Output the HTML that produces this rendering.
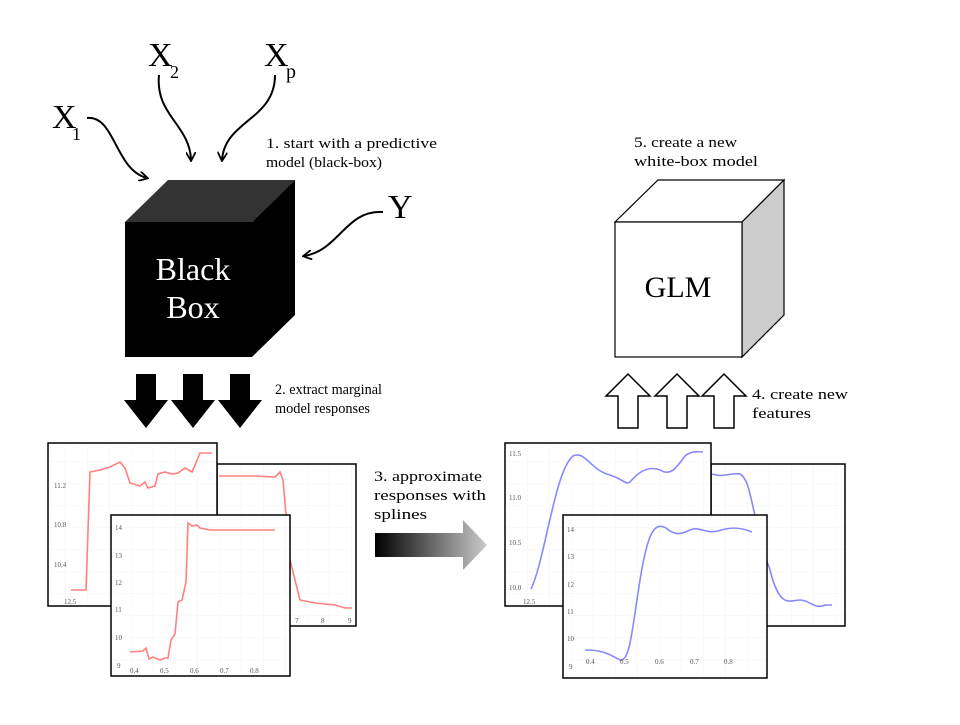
<!DOCTYPE html>
<html><head><meta charset="utf-8"><style>
body{margin:0;background:#fff;width:960px;height:720px;overflow:hidden}
text{font-family:"Liberation Serif",serif}
</style></head><body>
<svg width="960" height="720" viewBox="0 0 960 720" xmlns="http://www.w3.org/2000/svg">
<defs>
<marker id="ah" markerWidth="10" markerHeight="10" refX="8" refY="5" orient="auto" markerUnits="userSpaceOnUse">
<path d="M0,0 L9,5 L0,10" fill="none" stroke="#000" stroke-width="1.8"/></marker>
<linearGradient id="g" x1="0" x2="1"><stop offset="0" stop-color="#000"/><stop offset="1" stop-color="#ccc"/></linearGradient>
<pattern id="grid" width="22" height="22" patternUnits="userSpaceOnUse"><path d="M22 0V22M0 22H22" stroke="#f3f3f3" stroke-width="1" fill="none"/></pattern>
</defs>
<!-- inputs -->
<text x="52" y="128" font-size="34">X</text><text x="72" y="140" font-size="18">1</text>
<text x="148" y="66" font-size="34">X</text><text x="170" y="78" font-size="18">2</text>
<text x="264" y="66" font-size="34">X</text><text x="286" y="78" font-size="20">p</text>
<text x="388" y="218" font-size="34">Y</text>
<g fill="none" stroke="#000" stroke-width="2" marker-end="url(#ah)">
<path d="M87,118 C115,115 115,170 147,178"/>
<path d="M159,75 C155,115 190,125 191,160"/>
<path d="M275,75 C275,120 225,120 222,160"/>
<path d="M383,212 C345,210 340,250 304,256"/>
</g>
<g font-size="15">
<text x="266" y="148" textLength="171" lengthAdjust="spacingAndGlyphs">1. start with a predictive</text>
<text x="266" y="167" textLength="116" lengthAdjust="spacingAndGlyphs">model (black-box)</text>
<text x="275" y="394" textLength="107" lengthAdjust="spacingAndGlyphs">2. extract marginal</text>
<text x="275" y="413" textLength="95" lengthAdjust="spacingAndGlyphs">model responses</text>
<text x="374" y="481" textLength="108" lengthAdjust="spacingAndGlyphs">3. approximate</text>
<text x="374" y="500" textLength="112" lengthAdjust="spacingAndGlyphs">responses with</text>
<text x="374" y="519" textLength="53" lengthAdjust="spacingAndGlyphs">splines</text>
<text x="752" y="399" textLength="96" lengthAdjust="spacingAndGlyphs">4. create new</text>
<text x="752" y="418" textLength="59" lengthAdjust="spacingAndGlyphs">features</text>
<text x="634" y="147" textLength="103" lengthAdjust="spacingAndGlyphs">5. create a new</text>
<text x="634" y="166" textLength="124" lengthAdjust="spacingAndGlyphs">white-box model</text>
</g>
<!-- black cube -->
<polygon points="125,222 168,180 295,180 252,222" fill="#333"/>
<polygon points="252,222 295,180 295,315 252,357" fill="#000"/>
<rect x="125" y="222" width="127" height="135" fill="#000"/>
<text x="193" y="280" font-size="32" fill="#fff" text-anchor="middle">Black</text>
<text x="193" y="318" font-size="32" fill="#fff" text-anchor="middle">Box</text>
<!-- down arrows -->
<g fill="#000">
<polygon points="136,374 156,374 156,400 168,400 146,428 124,400 136,400"/>
<polygon points="183,374 203,374 203,400 215,400 193,428 171,400 183,400"/>
<polygon points="230,374 250,374 250,400 262,400 240,428 218,400 230,400"/>
</g>
<!-- left plots -->
<rect x="217" y="464" width="139" height="162" fill="url(#grid)" stroke="#000" stroke-width="1.5"/>
<path d="M219,476 L255,476 L275,477 L280,472 L283,480 L290,560 L300,600 L315,603 L335,605 L345,608 L352,608" fill="none" stroke="#ff8080" stroke-width="1.6"/>
<text x="295" y="623" font-size="7" fill="#555">7</text><text x="321" y="623" font-size="7" fill="#555">8</text><text x="348" y="623" font-size="7" fill="#555">9</text>
<rect x="48" y="443" width="169" height="163" fill="#fff" stroke="#000" stroke-width="1.5"/>
<rect x="50" y="445" width="166" height="160" fill="url(#grid)"/>
<path d="M71,590 L86,590 L90,472 L100,470 L110,467 L120,462 L125,468 L130,483 L140,486 L145,482 L148,488 L155,486 L158,474 L165,472 L172,474 L178,473 L185,468 L192,472 L195,465 L200,453 L212,453" fill="none" stroke="#ff8080" stroke-width="1.6"/>
<text x="54" y="488" font-size="7" fill="#555">11.2</text><text x="54" y="527" font-size="7" fill="#555">10.8</text><text x="54" y="567" font-size="7" fill="#555">10.4</text><text x="64" y="604" font-size="7" fill="#555">12.5</text>
<rect x="111" y="515" width="179" height="161" fill="#fff" stroke="#000" stroke-width="1.5"/>
<rect x="113" y="517" width="176" height="158" fill="url(#grid)"/>
<path d="M130,652 L143,651 L146,648 L149,659 L153,657 L160,660 L165,658 L168,658 L171,640 L175,634 L178,602 L182,600 L186,582 L188,523 L192,526 L197,525 L200,528 L210,530 L275,530" fill="none" stroke="#ff8080" stroke-width="1.6"/>
<g font-size="7" fill="#555"><text x="115" y="530">14</text><text x="115" y="558">13</text><text x="115" y="585">12</text><text x="115" y="612">11</text><text x="115" y="640">10</text><text x="117" y="668">9</text>
<text x="130" y="673">0.4</text><text x="160" y="673">0.5</text><text x="190" y="673">0.6</text><text x="220" y="673">0.7</text><text x="250" y="673">0.8</text></g>
<!-- gradient arrow -->
<polygon points="375,533 463,533 463,520 487,545 463,570 463,557 375,557" fill="url(#g)"/>
<!-- right plots -->
<rect x="711" y="464" width="134" height="162" fill="url(#grid)" stroke="#000" stroke-width="1.5"/>
<path d="M712,474 C725,478 732,472 740,474 C752,480 752,520 770,570 C780,610 790,600 800,600 C810,600 815,610 825,605 L832,605" fill="none" stroke="#8888ff" stroke-width="1.6"/>
<rect x="505" y="443" width="206" height="163" fill="#fff" stroke="#000" stroke-width="1.5"/>
<rect x="507" y="445" width="203" height="160" fill="url(#grid)"/>
<path d="M531,589 C545,560 555,470 573,456 C585,450 590,470 610,475 C625,480 625,485 630,482 C640,470 650,466 660,470 C670,476 675,470 685,456 C692,450 700,452 703,452" fill="none" stroke="#8888ff" stroke-width="1.6"/>
<g font-size="7" fill="#555"><text x="509" y="456">11.5</text><text x="509" y="500">11.0</text><text x="509" y="545">10.5</text><text x="509" y="590">10.0</text><text x="523" y="604">12.5</text></g>
<rect x="563" y="515" width="204" height="163" fill="#fff" stroke="#000" stroke-width="1.5"/>
<rect x="565" y="517" width="201" height="160" fill="url(#grid)"/>
<path d="M585,650 C605,650 610,655 620,660 C630,662 632,630 640,580 C648,530 655,522 666,528 C674,535 680,535 690,530 C700,526 705,534 718,531 C730,527 740,527 752,532" fill="none" stroke="#8888ff" stroke-width="1.6"/>
<g font-size="7" fill="#555"><text x="567" y="532">14</text><text x="567" y="559">13</text><text x="567" y="587">12</text><text x="567" y="614">11</text><text x="567" y="641">10</text><text x="569" y="669">9</text>
<text x="586" y="664">0.4</text><text x="620" y="664">0.5</text><text x="655" y="664">0.6</text><text x="690" y="664">0.7</text><text x="724" y="664">0.8</text></g>
<!-- up arrows -->
<g fill="#fff" stroke="#000" stroke-width="1.5">
<polygon points="618,428 638,428 638,396 650,396 628,374 606,396 618,396"/>
<polygon points="667,428 687,428 687,396 699,396 677,374 655,396 667,396"/>
<polygon points="714,428 734,428 734,396 746,396 724,374 702,396 714,396"/>
</g>
<!-- white cube -->
<polygon points="615,222 658,180 784,180 742,222" fill="#fff" stroke="#000" stroke-width="1.2"/>
<polygon points="742,222 784,180 784,315 742,357" fill="#ccc" stroke="#000" stroke-width="1.2"/>
<rect x="615" y="222" width="127" height="135" fill="#fff" stroke="#000" stroke-width="1.2"/>
<text x="678" y="297" font-size="30" text-anchor="middle">GLM</text>
</svg>
</body></html>
